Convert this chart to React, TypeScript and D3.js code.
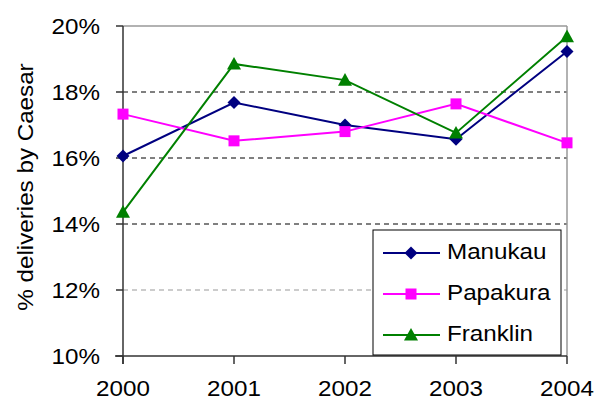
import React from "react";
import * as d3 from "d3";

const years = ["2000", "2001", "2002", "2003", "2004"];
const manukau = [16.06, 17.68, 17.0, 16.57, 19.23];
const papakura = [17.33, 16.52, 16.8, 17.64, 16.46];
const franklin = [14.36, 18.85, 18.36, 16.76, 19.68];
const yTicks = [10, 12, 14, 16, 18, 20];

const seriesNames = ["Manukau", "Papakura", "Franklin"];
const seriesColors = ["#000080", "#FF00FF", "#008000"];
const seriesShapes = ["diamond", "square", "triangle"];

const W = 596, H = 402;
const left = 123, right = 567, top = 26, bottom = 356;
const font = "'Liberation Sans', Arial, sans-serif";
const FS = 22;
const SX = 1.1;

function SText({ x, y, anchor, rotate, children }: { x: number; y: number; anchor?: string; rotate?: number; children: React.ReactNode }) {
  return (
    <text
      transform={`translate(${x},${y})${rotate ? ` rotate(${rotate})` : ""} scale(${SX},1)`}
      textAnchor={anchor || "start"}
      fontSize={FS}
      fill="#000"
    >
      {children}
    </text>
  );
}

function Marker({ shape, x, y, color }: { shape: string; x: number; y: number; color: string }) {
  if (shape === "diamond") {
    const s = 6.5;
    return <path d={`M${x},${y - s}L${x + s},${y}L${x},${y + s}L${x - s},${y}Z`} fill={color} />;
  }
  if (shape === "square") {
    const s = 5.5;
    return <rect x={x - s} y={y - s} width={2 * s} height={2 * s} fill={color} />;
  }
  const s = 7;
  return <path d={`M${x},${y - s}L${x + s},${y + s * 0.8}L${x - s},${y + s * 0.8}Z`} fill={color} />;
}

export default function App() {
  const x = d3.scalePoint<string>().domain(years).range([left, right]);
  const y = d3.scaleLinear().domain([10, 20]).range([bottom, top]);
  const data = [manukau, papakura, franklin];
  const line = d3
    .line<number>()
    .x((_, i) => x(years[i]) as number)
    .y((d) => y(d));

  const legendX = 373, legendY = 230, legendW = 188, legendH = 125;
  const legendRows = [253, 294, 335];

  return (
    <svg width={W} height={H} style={{ position: "absolute", left: 0, top: 0 }} fontFamily={font}>
      <rect width={W} height={H} fill="#fff" />
      {yTicks.filter((t) => t > 10 && t < 20).map((t) => (
        <line
          key={t}
          x1={left}
          x2={right}
          y1={y(t)}
          y2={y(t)}
          stroke={t === 12 ? "#999" : "#000"}
          strokeWidth={1}
          strokeDasharray="5,4"
        />
      ))}
      <line x1={left} x2={right} y1={top} y2={top} stroke="#999" strokeWidth={1.5} />
      <line x1={right} x2={right} y1={top} y2={bottom} stroke="#999" strokeWidth={1.5} />
      <line x1={left} x2={left} y1={top} y2={bottom + 8} stroke="#333" strokeWidth={1.5} />
      <line x1={left - 8} x2={right} y1={bottom} y2={bottom} stroke="#333" strokeWidth={1.5} />
      {yTicks.map((t) => (
        <g key={t}>
          <line x1={left - 7} x2={left} y1={y(t)} y2={y(t)} stroke="#333" strokeWidth={1.5} />
          <SText x={100} y={y(t) + 7.5} anchor="end">
            {t}%
          </SText>
        </g>
      ))}
      {years.map((yr) => (
        <g key={yr}>
          <line x1={x(yr)} x2={x(yr)} y1={bottom} y2={bottom + 8} stroke="#333" strokeWidth={1.5} />
          <SText x={x(yr) as number} y={396} anchor="middle">
            {yr}
          </SText>
        </g>
      ))}
      <SText x={33} y={187} anchor="middle" rotate={-90}>
        % deliveries by Caesar
      </SText>
      {data.map((vals, si) => (
        <g key={si}>
          <path d={line(vals) || ""} fill="none" stroke={seriesColors[si]} strokeWidth={2} />
          {vals.map((v, i) => (
            <Marker key={i} shape={seriesShapes[si]} x={x(years[i]) as number} y={y(v)} color={seriesColors[si]} />
          ))}
        </g>
      ))}
      <rect x={legendX} y={legendY} width={legendW} height={legendH} fill="#fff" stroke="#000" strokeWidth={1} />
      {seriesNames.map((n, i) => (
        <g key={n}>
          <line x1={383} x2={440} y1={legendRows[i]} y2={legendRows[i]} stroke={seriesColors[i]} strokeWidth={2} />
          <Marker shape={seriesShapes[i]} x={411} y={legendRows[i]} color={seriesColors[i]} />
          <SText x={447} y={legendRows[i] + 6}>
            {n}
          </SText>
        </g>
      ))}
    </svg>
  );
}
